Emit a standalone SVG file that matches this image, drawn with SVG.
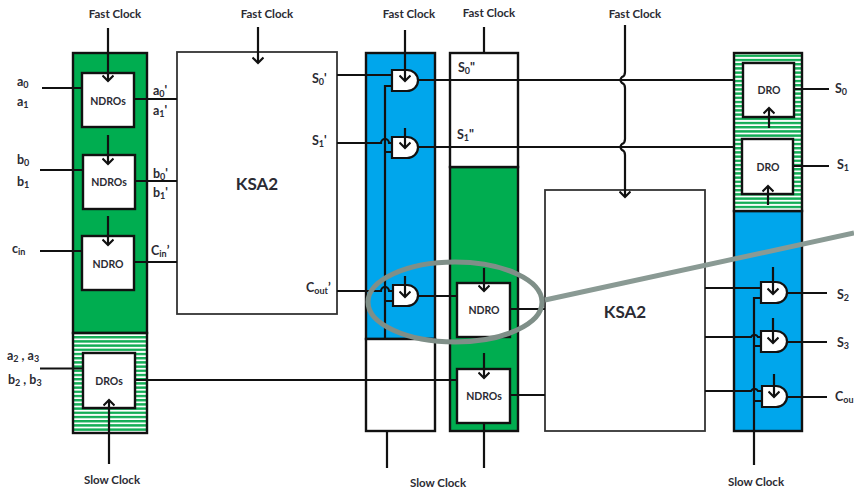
<svg xmlns="http://www.w3.org/2000/svg" width="854" height="491" viewBox="0 0 854 491">
<defs>
<pattern id="hatch" width="4" height="4.2" patternUnits="userSpaceOnUse"><rect width="4" height="4.2" fill="#fff"/><rect width="4" height="2.4" fill="#12ad55"/></pattern>
<marker id="arr" viewBox="0 0 12 12" refX="8.600" refY="6" markerWidth="12" markerHeight="12" orient="auto" markerUnits="userSpaceOnUse"><path d="M3 0.500L8.600 6L3 11.500" fill="none" stroke="#111" stroke-width="2.200"/></marker>
</defs>
<style>
text{font-family:Lato,"Liberation Sans",sans-serif;font-weight:700;fill:#2b2b33}
.lb{font-size:11.500px}
.sm{font-size:10.500px}
.io{font-size:12.500px}
.ks{font-size:17px}
.sub{font-size:9px}
.b{stroke:#111;stroke-width:2.400}
.t{stroke:#333;stroke-width:1.800}
.g{fill:#00ad50}.bl{fill:#00a6ec}.w{fill:#fff}.h{fill:url(#hatch)}
.c{fill:none;stroke:#111;stroke-width:2.200}
.a{fill:none;stroke:#111;stroke-width:2.200;marker-end:url(#arr)}
.gate{fill:#fff;stroke:#111;stroke-width:2.200}
</style>
<rect width="854" height="491" fill="#fff"/>

<g id="col1"><rect class="g b" x="73" y="53" width="74" height="280"/><rect class="h b" x="73" y="333" width="74" height="100"/></g>
<g id="ksa2-left"><rect class="w t" x="177" y="52" width="160" height="262"/><text class="ks" x="257" y="190" text-anchor="middle">KSA2</text></g>
<g id="col2"><rect class="bl b" x="366" y="53" width="69" height="286"/><rect class="w b" x="366" y="339" width="69" height="92"/></g>
<g id="col3"><rect class="g b" x="450" y="167" width="68" height="264"/><rect class="w b" x="450" y="53" width="68" height="114"/></g>
<g id="ksa2-right"><rect class="w t" x="545" y="190" width="160" height="241"/><text class="ks" x="625" y="318" text-anchor="middle">KSA2</text></g>
<g id="col4"><rect class="bl b" x="734" y="211" width="68" height="220"/><rect class="h b" x="734" y="53" width="68" height="158"/></g>

<g id="connectors">
<path class="c" d="M42 88H82M40 170H83M40 251H82M40 368.500H83M134 99H177M135 181H177M134 262H177M135 380H457"/>
<path class="c" d="M337 75H392M337 143H381a4 4 0 0 1 8 0H392M337 291H381a4 4 0 0 1 8 0H393"/>
<path class="c" d="M392 86H385V339M385 152H392M385 301H393"/>
<path class="c" d="M418 80H734M418 147H734M418 296H457M510 309H545M510 395H545"/>
<path class="c" d="M387 431V468M484 423V468M484 27V53"/>
<path class="c" d="M705 288H761M705 337H751a4 4 0 0 1 7 0H761M705 391H751a4 4 0 0 1 7 0H762"/>
<path class="c" d="M761 298H754V465M754 346H761M754 401H762"/>
<path class="c" d="M794 89H829M793 166H829M787 293H827M787 342H827M787 397H827"/>
</g>

<g id="gate1"><path class="gate" d="M392 70H407a11 10.500 0 0 1 0 21H392Z"/></g>
<g id="gate2"><path class="gate" d="M392 137H407a11 10.500 0 0 1 0 21H392Z"/></g>
<g id="gate3"><path class="gate" d="M393 285H407a11 10.500 0 0 1 0 21H393Z"/></g>
<g id="gate4"><path class="gate" d="M761 282H776a11 10.500 0 0 1 0 21H761Z"/></g>
<g id="gate5"><path class="gate" d="M761 331H776a11 10.500 0 0 1 0 21H761Z"/></g>
<g id="gate6"><path class="gate" d="M762 386H776a11 10.500 0 0 1 0 21H762Z"/></g>

<g id="ndros-a"><rect class="w b" x="82" y="73" width="52" height="54"/><text class="sm" x="108" y="105" text-anchor="middle">NDROs</text></g>
<g id="ndros-b"><rect class="w b" x="83" y="155" width="52" height="54"/><text class="sm" x="109" y="186" text-anchor="middle">NDROs</text></g>
<g id="ndro-c"><rect class="w b" x="82" y="236" width="52" height="54"/><text class="sm" x="108" y="268" text-anchor="middle">NDRO</text></g>
<g id="dros"><rect class="w b" x="83" y="353" width="52" height="55"/><text class="sm" x="109" y="385" text-anchor="middle">DROs</text></g>
<g id="ndro-mid"><rect class="w b" x="457" y="283" width="53" height="54"/><text class="sm" x="484" y="314" text-anchor="middle">NDRO</text></g>
<g id="ndros-mid"><rect class="w b" x="457" y="369" width="53" height="54"/><text class="sm" x="484" y="400" text-anchor="middle">NDROs</text></g>
<g id="dro0"><rect class="w b" x="743" y="63" width="51" height="54"/><text class="sm" x="769" y="94" text-anchor="middle">DRO</text></g>
<g id="dro1"><rect class="w b" x="742" y="139" width="51" height="55"/><text class="sm" x="768" y="171" text-anchor="middle">DRO</text></g>

<g id="clock-arrows">
<path class="a" d="M108 28V81"/><path class="a" d="M108 135V164"/><path class="a" d="M108 216V245"/>
<path class="a" d="M109 464V400"/>
<path class="a" d="M258 27V63"/>
<path class="a" d="M405 30V81"/><path class="a" d="M405 128V148"/><path class="a" d="M405 276V297"/>
<path class="a" d="M484 268V291"/><path class="a" d="M484 353V378"/>
<path class="a" d="M625 25V72Q625 76 622 77Q619 80 622 83Q625 84 625 88V139Q625 143 622 144Q619 147 622 150Q625 151 625 155V197"/>
<path class="a" d="M769 128V108"/><path class="a" d="M768 205V186"/>
<path class="a" d="M773 267V294"/><path class="a" d="M773 318V343"/><path class="a" d="M774 374V397"/>
</g>

<g id="labels">
<text class="lb" x="115" y="18" text-anchor="middle">Fast Clock</text>
<text class="lb" x="267" y="18" text-anchor="middle">Fast Clock</text>
<text class="lb" x="409" y="18" text-anchor="middle">Fast Clock</text>
<text class="lb" x="489" y="17" text-anchor="middle">Fast Clock</text>
<text class="lb" x="635" y="18" text-anchor="middle">Fast Clock</text>
<text class="lb" x="112" y="484" text-anchor="middle">Slow Clock</text>
<text class="lb" x="438" y="487" text-anchor="middle">Slow Clock</text>
<text class="lb" x="756" y="486" text-anchor="middle">Slow Clock</text>
<text class="io" x="17" y="86">a<tspan class="sub" dy="2">0</tspan></text>
<text class="io" x="17" y="106">a<tspan class="sub" dy="2">1</tspan></text>
<text class="io" x="17" y="164">b<tspan class="sub" dy="2">0</tspan></text>
<text class="io" x="17" y="186">b<tspan class="sub" dy="2">1</tspan></text>
<text class="io" x="12" y="253">c<tspan class="sub" dy="2">in</tspan></text>
<text class="io" x="7" y="360">a<tspan class="sub" dy="2">2</tspan><tspan dy="-2"> , a</tspan><tspan class="sub" dy="2">3</tspan></text>
<text class="io" x="8" y="384">b<tspan class="sub" dy="2">2</tspan><tspan dy="-2"> , b</tspan><tspan class="sub" dy="2">3</tspan></text>
<text class="io" x="153" y="95">a<tspan class="sub" dy="2">0</tspan><tspan dy="-2">'</tspan></text>
<text class="io" x="153" y="115">a<tspan class="sub" dy="2">1</tspan><tspan dy="-2">'</tspan></text>
<text class="io" x="153" y="178">b<tspan class="sub" dy="2">0</tspan><tspan dy="-2">'</tspan></text>
<text class="io" x="153" y="197">b<tspan class="sub" dy="2">1</tspan><tspan dy="-2">'</tspan></text>
<text class="io" x="151" y="255">C<tspan class="sub" dy="2">in</tspan><tspan dy="-2">’</tspan></text>
<text class="io" x="312" y="83">S<tspan class="sub" dy="2">0</tspan><tspan dy="-2">'</tspan></text>
<text class="io" x="312" y="145">S<tspan class="sub" dy="2">1</tspan><tspan dy="-2">'</tspan></text>
<text class="io" x="306" y="292">C<tspan class="sub" dy="2">out</tspan><tspan dy="-2">’</tspan></text>
<text class="io" x="458" y="72">S<tspan class="sub" dy="2">0</tspan><tspan dy="-2">"</tspan></text>
<text class="io" x="457" y="139">S<tspan class="sub" dy="2">1</tspan><tspan dy="-2">"</tspan></text>
<text class="io" x="835" y="93">S<tspan class="sub" dy="2">0</tspan></text>
<text class="io" x="837" y="169">S<tspan class="sub" dy="2">1</tspan></text>
<text class="io" x="837" y="299">S<tspan class="sub" dy="2">2</tspan></text>
<text class="io" x="837" y="347">S<tspan class="sub" dy="2">3</tspan></text>
<text class="io" x="835" y="401">C<tspan class="sub" dy="2">ou</tspan></text>
</g>

<g id="callout"><ellipse cx="455" cy="302" rx="87" ry="40" fill="none" stroke="#7f8f88" stroke-width="5"/><path d="M545 300L854 233" fill="none" stroke="#8a9a94" stroke-width="5"/></g>
</svg>
